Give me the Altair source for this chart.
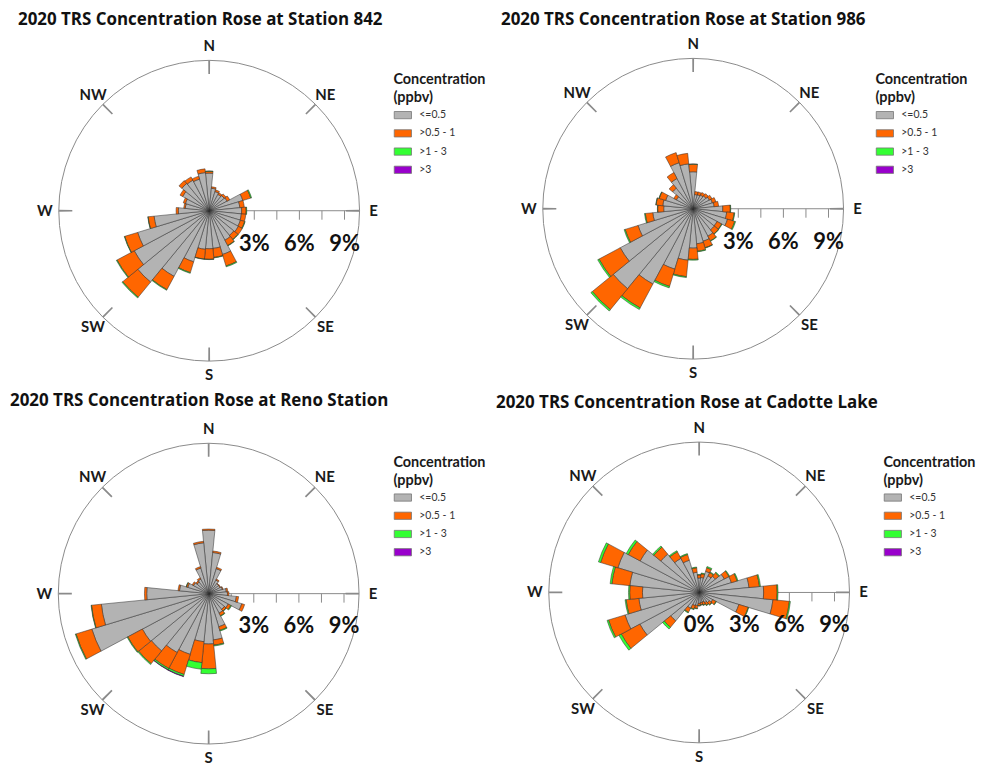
import altair as alt
import pandas as pd

# ---------------- data ----------------
DIRS = [0, 11.25, 22.5, 33.75, 45, 56.25, 67.5, 78.75, 90, 101.25, 112.5, 123.75,
        135, 146.25, 157.5, 168.75, 180, 191.25, 202.5, 213.75, 225, 236.25, 247.5,
        258.75, 270, 281.25, 292.5, 303.75, 315, 326.25, 337.5, 348.75]
CATS = ["<=0.5", ">0.5 - 1", ">1 - 3", ">3"]
COLORS = ["#b3b3b3", "#ff6600", "#33ff33", "#9900cc"]

S842_LOW = [2.50, 1.50, 1.33, 1.23, 1.30, 1.35, 2.34, 2.05, 2.16, 2.15, 2.17, 2.20,
            2.12, 2.22, 3.04, 2.52, 2.53, 2.58, 3.55, 4.95, 6.14, 5.65, 4.97, 3.68,
            2.05, 1.60, 1.65, 2.00, 2.35, 2.30, 2.20, 2.55]
S842_MID = [0.12, 0.10, 0.12, 0.12, 0.15, 0.20, 0.55, 0.30, 0.30, 0.30, 0.30, 0.30,
            0.35, 0.40, 0.80, 0.60, 0.70, 0.65, 0.75, 1.00, 1.30, 1.30, 0.90, 0.40,
            0.15, 0.10, 0.15, 0.20, 0.25, 0.25, 0.20, 0.25]
S842_HIGH = [0.03, 0, 0, 0, 0, 0, 0.06, 0, 0.04, 0, 0.03, 0,
             0.03, 0.03, 0.06, 0.03, 0.02, 0.02, 0.05, 0.05, 0.06, 0.05, 0.03, 0.02,
             0, 0, 0, 0, 0, 0, 0, 0]
S842_TOP = [0] * 32

S986_LOW = [2.46, 0.95, 0.97, 1.03, 1.10, 1.22, 1.33, 1.40, 1.97, 2.24, 2.39, 1.80,
            1.82, 2.07, 2.26, 2.34, 2.62, 3.44, 4.20, 5.68, 6.88, 5.50, 3.83, 2.70,
            1.96, 2.03, 1.91, 1.26, 1.77, 2.28, 3.20, 3.00]
S986_MID = [0.50, 0.20, 0.20, 0.20, 0.20, 0.20, 0.25, 0.30, 0.50, 0.50, 0.50, 0.35,
            0.35, 0.35, 0.45, 0.50, 0.75, 1.10, 1.20, 1.80, 1.80, 1.60, 0.90, 0.50,
            0.40, 0.45, 0.45, 0.20, 0.30, 0.45, 0.70, 0.70]
S986_HIGH = [0.02, 0, 0, 0, 0, 0, 0, 0, 0.03, 0.04, 0.06, 0.03,
             0.03, 0.03, 0.03, 0.04, 0.05, 0.06, 0.10, 0.12, 0.12, 0.10, 0.07, 0.05,
             0.02, 0.02, 0.02, 0, 0, 0, 0, 0]
S986_TOP = [0] * 32

RENO_LOW = [4.22, 2.75, 1.73, 1.02, 0.85, 0.85, 0.95, 1.18, 1.25, 1.85, 2.30, 1.47,
            1.35, 1.47, 2.30, 3.09, 3.35, 3.21, 4.22, 4.44, 4.93, 5.00, 8.12, 7.17,
            4.12, 1.95, 1.45, 1.14, 1.00, 1.10, 1.78, 3.40]
RENO_MID = [0.08, 0.10, 0.10, 0.08, 0.05, 0.05, 0.05, 0.10, 0.10, 0.15, 0.20, 0.20,
            0.15, 0.20, 0.25, 0.35, 1.65, 1.40, 1.40, 1.20, 1.10, 1.10, 1.10, 0.66,
            0.15, 0.10, 0.10, 0.10, 0.10, 0.10, 0.10, 0.10]
RENO_HIGH = [0, 0, 0, 0, 0, 0, 0, 0, 0, 0, 0, 0.05,
             0.02, 0.03, 0.05, 0.06, 0.33, 0.44, 0.12, 0.10, 0.07, 0.05, 0.05, 0.03,
             0, 0, 0.02, 0, 0, 0, 0, 0]
RENO_TOP = [0, 0, 0, 0, 0, 0, 0, 0, 0, 0, 0, 0,
            0, 0, 0, 0, 0, 0, 0.03, 0.02, 0, 0, 0, 0,
            0, 0, 0, 0, 0, 0, 0, 0]

CAD_LOW = [0.96, 1.00, 1.47, 1.25, 1.40, 1.90, 2.24, 3.33, 4.29, 4.93, 2.76, 1.02,
           0.87, 0.77, 0.67, 0.68, 0.73, 0.87, 0.91, 1.20, 2.45, 4.47, 5.15, 4.03,
           3.77, 4.63, 5.65, 4.45, 3.30, 2.57, 2.24, 1.35]
CAD_MID = [0.20, 0.25, 0.25, 0.25, 0.30, 0.35, 0.40, 0.70, 0.90, 1.10, 0.65, 0.25,
           0.20, 0.20, 0.20, 0.15, 0.15, 0.20, 0.25, 0.30, 0.55, 1.40, 1.15, 0.85,
           0.85, 1.20, 1.20, 0.90, 0.60, 0.50, 0.40, 0.30]
CAD_HIGH = [0.04, 0.05, 0.08, 0.05, 0.05, 0.05, 0.06, 0.07, 0.06, 0.07, 0.04, 0.03,
            0.03, 0.03, 0.03, 0.02, 0.02, 0.03, 0.04, 0.05, 0.15, 0.18, 0.10, 0.07,
            0.08, 0.12, 0.15, 0.15, 0.10, 0.08, 0.06, 0.05]
CAD_TOP = [0] * 32

COMPASS = ["N", "NE", "E", "SE", "S", "SW", "W", "NW"]
COMPASS_ANG = [0, 45, 90, 135, 180, 225, 270, 315]
MINOR_TICKS = [1.5, 3, 4.5, 6, 7.5, 9]

TITLES = ["2020 TRS Concentration Rose at Station 842",
          "2020 TRS Concentration Rose at Station 986",
          "2020 TRS Concentration Rose at Reno Station",
          "2020 TRS Concentration Rose at Cadotte Lake"]
TICK_VALS = [[3, 6, 9], [3, 6, 9], [3, 6, 9], [0, 3, 6, 9]]
TICK_TEXT = [["3%", "6%", "9%"], ["3%", "6%", "9%"], ["3%", "6%", "9%"],
             ["0%", "3%", "6%", "9%"]]

# ---------------- layout ----------------
PW, PH = 484, 380
R = 151          # pixel radius of the 10% circle
RMAX = 10
FONT = "Lato"
TFONT = "Open Sans"

# (cx, cy, title_x, title_y, legend_x, legend_y)
LAYOUT = [
    (202, 202, 10, 10, 387, 64),
    (204, 200, 11, 10, 387, 64),
    (201.5, 206.5, 2, 13, 387, 68),
    (210, 205.3, 6, 15, 395, 68),
]


def rose(idx, low, mid, high, top):
    cx, cy, tx, ty, lx, ly = LAYOUT[idx]
    rows = []
    for k, (cat, vals) in enumerate(zip(CATS, [low, mid, high, top])):
        for d, v in zip(DIRS, vals):
            rows.append({"dir": d, "cat": cat, "order": k, "value": v})
    df = pd.DataFrame(rows)

    th = alt.Scale(domain=[0, 360], range=[0, 6.283185307179586])
    rs = alt.Scale(type="linear", domain=[0, RMAX], range=[0, R], zero=True)
    xs = alt.Scale(domain=[0, RMAX], range=[cx, cx + R])

    circle = alt.Chart(pd.DataFrame({"a": [0], "b": [360], "r": [RMAX]})).mark_arc(
        fillOpacity=0, stroke="#8a8a8a", strokeWidth=1
    ).encode(
        theta=alt.Theta("a:Q", scale=th), theta2="b:Q",
        radius=alt.Radius("r:Q", scale=rs),
        x=alt.value(cx), y=alt.value(cy),
    )

    cdf = pd.DataFrame({"ang": COMPASS_ANG, "lab": COMPASS})
    cticks = alt.Chart(cdf).transform_calculate(
        a0="datum.ang - 0.35", a1="datum.ang + 0.35", r0="9.1", r1="10"
    ).mark_arc(fill="#8a8a8a").encode(
        theta=alt.Theta("a0:Q", scale=th), theta2="a1:Q",
        radius=alt.Radius("r1:Q", scale=rs), radius2="r0:Q",
        x=alt.value(cx), y=alt.value(cy),
    )

    axis_line = alt.Chart(pd.DataFrame({"a": [0], "b": [RMAX]})).mark_rule(
        color="#8a8a8a", strokeWidth=1
    ).encode(
        x=alt.X("a:Q", scale=xs, axis=None), x2="b:Q", y=alt.value(cy)
    )
    minor = alt.Chart(pd.DataFrame({"p": MINOR_TICKS})).mark_rule(
        color="#8a8a8a", strokeWidth=1
    ).encode(
        x=alt.X("p:Q", scale=xs, axis=None), y=alt.value(cy), y2=alt.value(cy + 9)
    )

    bars = alt.Chart(df).transform_stack(
        stack="value", groupby=["dir"], as_=["r0", "r1"],
        sort=[alt.SortField(field="order", order="ascending")]
    ).transform_filter("datum.value > 0").transform_calculate(
        t0="datum.dir - 5.625", t1="datum.dir + 5.625"
    ).mark_arc(stroke="#2a2a2a", strokeWidth=0.5).encode(
        theta=alt.Theta("t0:Q", scale=th), theta2="t1:Q",
        radius=alt.Radius("r1:Q", scale=rs), radius2="r0:Q",
        x=alt.value(cx), y=alt.value(cy),
        color=alt.Color(
            "cat:N",
            scale=alt.Scale(domain=CATS, range=COLORS),
            legend=alt.Legend(
                title=["Concentration", "(ppbv)"], orient="none",
                legendX=lx, legendY=ly,
                titleFont=FONT, titleFontSize=14.5, titleFontWeight="bold",
                titleColor="#1a1a1a", titleLineHeight=18, titlePadding=0,
                labelFont=FONT, labelFontSize=10.5, labelColor="#333333",
                symbolType="M-1,-0.42H1V0.42H-1Z", symbolSize=300,
                symbolStrokeColor="#777777", symbolStrokeWidth=0.8,
                symbolOpacity=1, rowPadding=3.3, labelOffset=7,
            ),
        ),
    )

    tl = alt.Chart(pd.DataFrame({"v": TICK_VALS[idx], "t": TICK_TEXT[idx]})).mark_text(
        font=FONT, fontSize=22, fontWeight="bold", color="#111111", baseline="middle"
    ).encode(x=alt.X("v:Q", scale=xs, axis=None), y=alt.value(cy + 33), text="t:N")

    clabels = alt.Chart(cdf).mark_text(
        font=FONT, fontSize=15, fontWeight="bold", color="#1a1a1a",
        align="center", baseline="middle"
    ).encode(
        theta=alt.Theta("ang:Q", scale=th), radius=alt.value(165),
        x=alt.value(cx), y=alt.value(cy), text="lab:N",
    )

    title = alt.Chart(pd.DataFrame({"t": [TITLES[idx]]})).mark_text(
        font=TFONT, fontSize=17, fontWeight="bold", color="#111111",
        align="left", baseline="middle"
    ).encode(x=alt.value(tx), y=alt.value(ty), text="t:N")

    return alt.layer(circle, axis_line, minor, cticks, bars, tl, clabels, title).properties(
        width=PW, height=PH
    )


p1 = rose(0, S842_LOW, S842_MID, S842_HIGH, S842_TOP)
p2 = rose(1, S986_LOW, S986_MID, S986_HIGH, S986_TOP)
p3 = rose(2, RENO_LOW, RENO_MID, RENO_HIGH, RENO_TOP)
p4 = rose(3, CAD_LOW, CAD_MID, CAD_HIGH, CAD_TOP)

RES = dict(color="independent", x="independent", theta="independent", radius="independent")

top = alt.hconcat(p1, p2, spacing=0).resolve_scale(**RES).resolve_legend(color="independent")
bottom = alt.hconcat(p3, p4, spacing=0).resolve_scale(**RES).resolve_legend(color="independent")
chart = alt.vconcat(top, bottom, spacing=0).resolve_scale(**RES).resolve_legend(
    color="independent"
).properties(padding=0).configure_view(stroke=None)

chart.save("out.html", embed_options={"renderer": "svg", "actions": False})
